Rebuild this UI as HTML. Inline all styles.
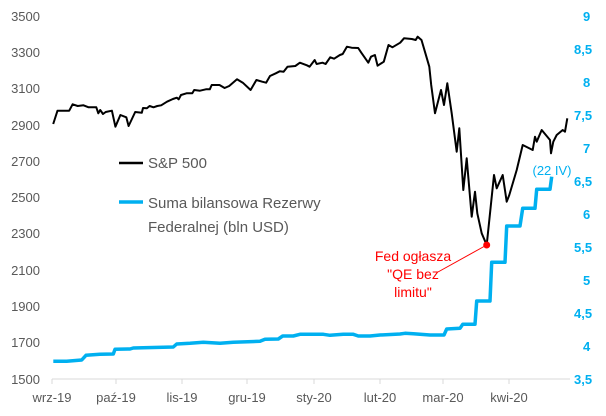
<!DOCTYPE html>
<html><head><meta charset="utf-8"><style>
html,body{margin:0;padding:0;background:#fff;}
svg{display:block;font-family:"Liberation Sans",sans-serif;}
</style></head><body>
<svg width="606" height="416" viewBox="0 0 606 416" xmlns="http://www.w3.org/2000/svg">
<g font-size="13" fill="#595959" text-anchor="end">
<text x="40" y="21">3500</text><text x="40" y="57">3300</text><text x="40" y="93">3100</text>
<text x="40" y="130">2900</text><text x="40" y="166">2700</text><text x="40" y="202">2500</text>
<text x="40" y="238">2300</text><text x="40" y="275">2100</text><text x="40" y="311">1900</text>
<text x="40" y="347">1700</text><text x="40" y="384">1500</text>
</g>
<g font-size="13" fill="#00b0f0" font-weight="bold">
<text x="583" y="21">9</text><text x="574" y="54">8,5</text><text x="583" y="87">8</text>
<text x="574" y="120">7,5</text><text x="583" y="153">7</text><text x="574" y="186">6,5</text>
<text x="583" y="219">6</text><text x="574" y="252">5,5</text><text x="583" y="285">5</text>
<text x="574" y="318">4,5</text><text x="583" y="351">4</text><text x="574" y="384">3,5</text>
</g>
<line x1="52" y1="379" x2="570" y2="379" stroke="#d9d9d9" stroke-width="1"/>
<g stroke="#d9d9d9" stroke-width="1">
<line x1="52" y1="379" x2="52" y2="384"/><line x1="116" y1="379" x2="116" y2="384"/>
<line x1="182" y1="379" x2="182" y2="384"/><line x1="247" y1="379" x2="247" y2="384"/>
<line x1="314" y1="379" x2="314" y2="384"/><line x1="380" y1="379" x2="380" y2="384"/>
<line x1="443" y1="379" x2="443" y2="384"/><line x1="509" y1="379" x2="509" y2="384"/>
</g>
<g font-size="13" fill="#595959" text-anchor="middle">
<text x="52" y="402">wrz-19</text><text x="116" y="402">paź-19</text><text x="182" y="402">lis-19</text>
<text x="247" y="402">gru-19</text><text x="314" y="402">sty-20</text><text x="380" y="402">lut-20</text>
<text x="443" y="402">mar-20</text><text x="509" y="402">kwi-20</text>
</g>
<polyline fill="none" stroke="#00b0f0" stroke-width="3.5" stroke-linejoin="round" points="53.3,361.3 66.7,361.3 81.7,360 86,355.3 100,354.3 113.3,354 115,349.3 130,349 133.3,348 173.3,347 176.7,344 190,343.3 203.3,342.3 220,343.3 233.3,342.3 260,341.3 265,339.3 278.3,339 282.7,336 293.3,336 300,334.3 323.3,334.3 330,335.3 343.3,334.3 353.3,334.3 358.3,336 370,336 380,335 400,334 405,333.3 413.3,333.7 430,335 444,335 446.7,329 460,328.3 462.7,324.3 475,324.3 476.7,301 490,301 491.7,262.3 505,262.3 506.7,226 520,226 522.7,208.3 535,208.3 536.7,189.3 550,189.3 551.7,176.7"/>
<polyline fill="none" stroke="#000" stroke-width="2" stroke-linejoin="round" points="53.2,124 57.5,110.7 69.2,110.7 72.6,104.3 77.7,106 83.5,105.3 88.6,107.3 96.3,107.3 98.3,113.3 100.2,110 103,114 105.7,112 111.9,110.7 115.4,126.7 120.4,115 126.3,117.3 128.6,126 135.2,112 141.8,112.7 143,108 146.9,108.3 149.6,106 153.5,107.3 157.3,106 161.2,105.3 167,101.7 172.9,99 176.8,97.7 178.7,99.3 181,95 186.5,93.3 192.3,93.3 194.2,90 200,90.7 205.9,89.3 209.8,89.3 211.7,85 219.5,85 224.6,88 229.2,86 237,79.3 242.8,82.7 250.6,90 256.4,80 262.2,81.7 266.1,82.7 270,76 275.8,73.3 279.7,71.3 283.6,71.7 287.5,66.7 295.3,66 299.9,62.7 306.9,65.3 309.6,66.7 314.7,60 316.6,64 322.5,62.7 325.6,64 330.2,57.3 334.1,58.7 339.9,55 342.7,54 346.9,46.7 351.6,47.7 358.2,48 361.3,52.7 368.3,62.7 371,56.7 374.9,55 377.6,65.7 383.8,61.7 388.5,45 392.4,47.3 400.2,42.7 404,38.3 411.8,39 415.7,40 417.6,36.7 421.5,40 425.4,53.3 429.3,66.7 431.2,85 435,113.3 441,90 444,105 447.3,83.3 451.7,113.3 456.7,151.7 459.3,128.3 463.3,190 466.7,158.3 471.7,216.7 475,191.7 477.3,213.3 481.7,233.3 486.7,245 490.7,206.7 494,175 496.7,188.3 502.7,175 506.7,201.7 509.3,195 516.7,170 522.7,145 532.7,150 535,136.7 536.7,141.7 541.7,130 550,140 551,153.3 553.3,141.7 556.7,135 562.7,130 565,131.7 567.3,118.3"/>
<line x1="438" y1="272" x2="486.7" y2="245" stroke="#ff0000" stroke-width="1"/>
<circle cx="486.7" cy="245" r="3.5" fill="#ff0000"/>
<g font-size="14" fill="#ff0000" text-anchor="middle">
<text x="413" y="261">Fed ogłasza</text><text x="413" y="279">"QE bez</text><text x="413" y="297">limitu"</text>
</g>
<text x="552" y="175" font-size="13" fill="#00b0f0" text-anchor="middle">(22 IV)</text>
<line x1="119" y1="163" x2="143" y2="163" stroke="#000" stroke-width="2.5"/>
<text x="148" y="168" font-size="15" fill="#595959">S&amp;P 500</text>
<line x1="119" y1="202" x2="143" y2="202" stroke="#00b0f0" stroke-width="3.5"/>
<text x="148" y="208" font-size="15" fill="#595959">Suma bilansowa Rezerwy</text>
<text x="148" y="232" font-size="15" fill="#595959">Federalnej (bln USD)</text>
</svg>
</body></html>
